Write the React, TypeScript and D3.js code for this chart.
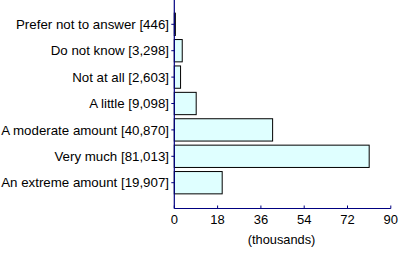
import React from "react";
import * as d3 from "d3";

const categories = [
  "Prefer not to answer [446]",
  "Do not know [3,298]",
  "Not at all [2,603]",
  "A little [9,098]",
  "A moderate amount [40,870]",
  "Very much [81,013]",
  "An extreme amount [19,907]",
];
const values = [446, 3298, 2603, 9098, 40870, 81013, 19907];
const xTicks = [0, 18, 36, 54, 72, 90];
const xTitle = "(thousands)";

export default function App() {
  const W = 400, H = 254;
  const x0 = 174.3, x1 = 390.8, axisY = 208.5;
  const x = d3.scaleLinear().domain([0, 90]).range([x0, x1]);
  const y = d3.scaleBand<string>().domain(categories).range([11.1, 195.9]).paddingInner(0.155).paddingOuter(0.0775);
  const font = "'Liberation Sans', Arial, sans-serif";
  const navy = "#000080";
  return (
    <svg width={W} height={H} style={{ position: "absolute", left: 0, top: 0 }} fontFamily={font}>
      <rect width={W} height={H} fill="#fff" />
      {categories.map((c, i) => (
        <rect key={c} x={x0} y={y(c)!} width={x(values[i] / 1000) - x0} height={y.bandwidth()}
          fill="#DFFFFF" stroke="#000" strokeWidth={1} />
      ))}
      <line x1={x0} x2={x0} y1={0} y2={axisY} stroke={navy} strokeWidth={1.2} />
      <line x1={x0} x2={x1} y1={axisY} y2={axisY} stroke={navy} strokeWidth={1.2} />
      {categories.map((c) => {
        const cy = y(c)! + y.bandwidth() / 2;
        return (
          <g key={c}>
            <line x1={x0 - 3} x2={x0} y1={cy} y2={cy} stroke={navy} />
            <text x={169} y={cy} dy="0.35em" textAnchor="end" fontSize={13.3} fill="#000">{c}</text>
          </g>
        );
      })}
      {xTicks.map((t) => (
        <g key={t}>
          <line x1={x(t)} x2={x(t)} y1={axisY} y2={axisY - 3} stroke={navy} />
          <text x={x(t)} y={224} textAnchor="middle" fontSize={13} fill="#000">{t}</text>
        </g>
      ))}
      <text x={(x0 + x1) / 2 - 1} y={244} textAnchor="middle" fontSize={12.8} fill="#000">{xTitle}</text>
    </svg>
  );
}
